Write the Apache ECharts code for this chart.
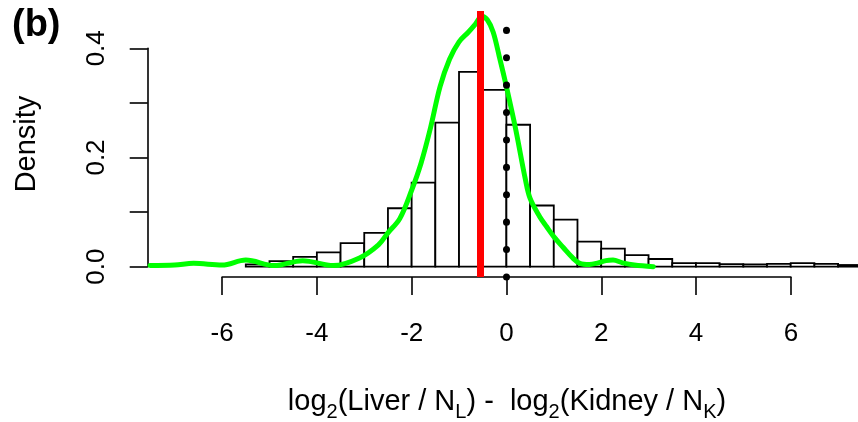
<!DOCTYPE html>
<html>
<head>
<meta charset="utf-8">
<script src="https://cdn.jsdelivr.net/npm/echarts@6/dist/echarts.min.js"></script>
<style>
html,body{margin:0;padding:0;background:#fff;}
#chart{width:858px;height:422px;}
</style>
</head>
<body>
<div id="chart"></div>
<script>
// ---- data ----
const binStarts = [-5.5, -5.0, -4.5, -4.0, -3.5, -3.0, -2.5, -2.0, -1.5, -1.0, -0.5, 0.0, 0.5, 1.0, 1.5, 2.0, 2.5, 3.0, 3.5, 4.0, 4.5, 5.0, 5.5, 6.0, 6.5, 7.0];
const binWidth = 0.5;
const densities = [0.004, 0.010, 0.018, 0.026, 0.043, 0.062, 0.107, 0.154, 0.264, 0.357, 0.324, 0.260, 0.112, 0.086, 0.046, 0.033, 0.021, 0.014, 0.0065, 0.0065, 0.0045, 0.004, 0.005, 0.0066, 0.005, 0.003];
const kdeX = [-7.52, -7.0, -6.6, -6.0, -5.5, -4.9, -4.3, -3.65, -3.1, -2.7, -2.5, -2.25, -2.0, -1.8, -1.6, -1.4, -1.2, -1.0, -0.8, -0.65, -0.52, -0.4, -0.28, -0.15, 0.0, 0.2, 0.4, 0.5, 0.7, 0.85, 1.0, 1.2, 1.4, 1.55, 1.75, 1.9, 2.1, 2.25, 2.45, 2.7, 3.1];
const kdeY = [0.002, 0.003, 0.006, 0.003, 0.012, 0.002, 0.011, 0.002, 0.016, 0.040, 0.062, 0.088, 0.140, 0.190, 0.255, 0.330, 0.380, 0.412, 0.430, 0.445, 0.459, 0.452, 0.430, 0.385, 0.330, 0.250, 0.160, 0.125, 0.092, 0.073, 0.055, 0.035, 0.016, 0.006, 0.004, 0.006, 0.011, 0.012, 0.007, 0.003, 0.0];
const medianShift = [-0.56];
const zeroLine = [0];
const xTicks = [-6, -4, -2, 0, 2, 4, 6];
const yTicks = [0.0, 0.1, 0.2, 0.3, 0.4];
const yTickLabels = ['0.0', '', '0.2', '', '0.4'];

// ---- chart ----
const chart = echarts.init(document.getElementById('chart'), null, {renderer: 'canvas'});
const FONT = 'Liberation Sans, Arial, Helvetica, sans-serif';

const histData = binStarts.map((s, i) => [s, s + binWidth, densities[i]]);
const kdeData = kdeX.map((x, i) => [x, kdeY[i]]);

const option = {
  backgroundColor: '#fff',
  animation: false,
  grid: [
    {left: 147.7, right: 0, top: 11, bottom: 145},
    {left: 222.1, right: 67.1, top: 11, bottom: 145},
    {left: 147.7, width: 20, top: 48.3, bottom: 155.3}
  ],
  xAxis: [
    {gridIndex: 0, type: 'value', min: -7.57, max: 7.42, show: false},
    {gridIndex: 1, type: 'value', min: xTicks[0], max: xTicks[xTicks.length - 1], interval: 2,
      axisLine: {show: true, onZero: false, lineStyle: {color: '#000', width: 1.6}},
      axisTick: {show: true, inside: false, length: 18, lineStyle: {color: '#000', width: 1.6}},
      axisLabel: {show: true, color: '#000', fontSize: 26, fontFamily: FONT, margin: 44},
      splitLine: {show: false}},
    {gridIndex: 2, type: 'value', show: false}
  ],
  yAxis: [
    {gridIndex: 0, type: 'value', min: -0.019, max: 0.4685, show: false},
    {gridIndex: 1, type: 'value', min: -0.019, max: 0.4685, show: false},
    {gridIndex: 2, type: 'value', min: yTicks[0], max: yTicks[yTicks.length - 1], interval: 0.1,
      axisLine: {show: true, onZero: false, lineStyle: {color: '#000', width: 1.6}},
      axisTick: {show: true, inside: false, length: 18, lineStyle: {color: '#000', width: 1.6}},
      axisLabel: {show: true, color: '#000', fontSize: 26, fontFamily: FONT, rotate: 90, margin: 38,
        formatter: function (v) { const i = yTicks.findIndex(t => Math.abs(t - v) < 1e-9); return i >= 0 ? yTickLabels[i] : ''; }},
      splitLine: {show: false}}
  ],
  series: [
    {
      type: 'custom', xAxisIndex: 0, yAxisIndex: 0, data: histData, z: 2,
      renderItem: function (params, api) {
        const p0 = api.coord([api.value(0), api.value(2)]);
        const p1 = api.coord([api.value(1), 0]);
        return {
          type: 'rect',
          shape: {x: p0[0], y: p0[1], width: p1[0] - p0[0], height: p1[1] - p0[1]},
          style: {fill: '#fff', stroke: '#000', lineWidth: 1.8}
        };
      }
    },
    {
      type: 'line', xAxisIndex: 0, yAxisIndex: 0, data: kdeData, z: 3,
      smooth: 0.35, showSymbol: false, symbol: 'none',
      lineStyle: {color: '#00ff00', width: 5, cap: 'round', join: 'round'}
    },
    {
      type: 'line', xAxisIndex: 0, yAxisIndex: 0, data: [], z: 4,
      markLine: {
        silent: true, symbol: 'none', label: {show: false},
        data: [
          {xAxis: medianShift[0], lineStyle: {color: '#ff0000', width: 7, type: 'solid'}},
          {xAxis: zeroLine[0], lineStyle: {color: '#000', width: 7, type: [0.1, 27.3], cap: 'round'}}
        ]
      }
    }
  ],
  graphic: [
    {type: 'text', left: 12, top: 7, style: {text: '(b)', font: 'bold 38px ' + FONT, fill: '#000'}},
    {type: 'text', x: 27, y: 144, rotation: Math.PI / 2,
      style: {text: 'Density', font: '29px ' + FONT, fill: '#000', textAlign: 'center', textVerticalAlign: 'middle'}},
    {type: 'text', x: 507, y: 402,
      style: {
        text: '{b|log}{s|2}{b|(Liver / N}{s|L}{b|) -  log}{s|2}{b|(Kidney / N}{s|K}{b|)}',
        textAlign: 'center', textVerticalAlign: 'middle', fill: '#000',
        rich: {
          b: {fontSize: 29, fontFamily: FONT, lineHeight: 40, verticalAlign: 'middle', fill: '#000', color: '#000'},
          s: {fontSize: 20, fontFamily: FONT, lineHeight: 20, verticalAlign: 'bottom', fill: '#000', color: '#000'}
        }
      }}
  ]
};
chart.setOption(option);
</script>
</body>
</html>
